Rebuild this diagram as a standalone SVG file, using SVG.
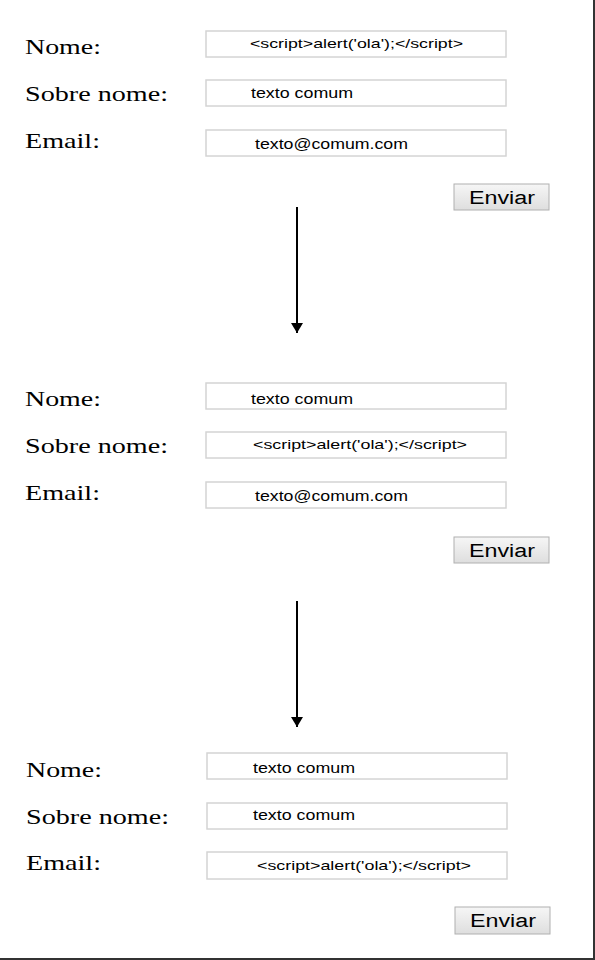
<svg xmlns="http://www.w3.org/2000/svg" width="595" height="960" viewBox="0 0 595 960">
<style>
.lbl{font-family:"Liberation Serif","Times New Roman",serif;font-size:22px;fill:#000}
.box{fill:#fff;stroke:#d4d4d4;stroke-width:1.5}
.val{font-family:"Liberation Sans",Arial,sans-serif;font-size:14px;fill:#000}
.scr{font-family:"Liberation Sans",Arial,sans-serif;font-size:13px;fill:#000}
.btn{fill:url(#bg);stroke:#b0b0b0;stroke-width:1}
.btxt{font-family:"Liberation Sans",Arial,sans-serif;font-size:18px;fill:#000}
.conn{stroke:#000;stroke-width:2;fill:none}
</style>
<defs>
<linearGradient id="bg" x1="0" y1="0" x2="0" y2="1">
<stop offset="0" stop-color="#f6f6f6"/>
<stop offset="1" stop-color="#dedede"/>
</linearGradient>
<marker id="ah" viewBox="0 0 10 12" refX="10" refY="6" markerWidth="10" markerHeight="12" markerUnits="userSpaceOnUse" orient="auto">
<path d="M0,0 L10,6 L0,12 Z" fill="#000"/>
</marker>
</defs>
<rect x="0" y="0" width="595" height="960" fill="#fff"/>
<g id="frame">
<line x1="594" y1="0" x2="594" y2="960" stroke="#333" stroke-width="2"/>
<line x1="0" y1="959" x2="595" y2="959" stroke="#333" stroke-width="2"/>
</g>

<g id="form1">
<text class="lbl" x="25" y="54" textLength="76" lengthAdjust="spacingAndGlyphs">Nome:</text>
<text class="lbl" x="25" y="101" textLength="143" lengthAdjust="spacingAndGlyphs">Sobre nome:</text>
<text class="lbl" x="25" y="148" textLength="75" lengthAdjust="spacingAndGlyphs">Email:</text>
<rect class="box" x="206" y="31" width="300" height="26"/>
<text class="scr" x="250" y="48" textLength="213" lengthAdjust="spacingAndGlyphs">&lt;script&gt;alert('ola');&lt;/script&gt;</text>
<rect class="box" x="206" y="80" width="300" height="26"/>
<text class="val" x="251" y="98" textLength="102" lengthAdjust="spacingAndGlyphs">texto comum</text>
<rect class="box" x="206" y="130" width="300" height="26"/>
<text class="val" x="255" y="149" textLength="153" lengthAdjust="spacingAndGlyphs">texto@comum.com</text>
<rect class="btn" x="454" y="184" width="95" height="26"/>
<text class="btxt" x="469" y="204" textLength="66" lengthAdjust="spacingAndGlyphs">Enviar</text>
</g>

<g id="form2">
<text class="lbl" x="25" y="406" textLength="76" lengthAdjust="spacingAndGlyphs">Nome:</text>
<text class="lbl" x="25" y="453" textLength="143" lengthAdjust="spacingAndGlyphs">Sobre nome:</text>
<text class="lbl" x="25" y="500" textLength="75" lengthAdjust="spacingAndGlyphs">Email:</text>
<rect class="box" x="206" y="383" width="300" height="26"/>
<text class="val" x="251" y="404" textLength="102" lengthAdjust="spacingAndGlyphs">texto comum</text>
<rect class="box" x="206" y="432" width="300" height="26"/>
<text class="scr" x="253" y="449" textLength="214" lengthAdjust="spacingAndGlyphs">&lt;script&gt;alert('ola');&lt;/script&gt;</text>
<rect class="box" x="206" y="482" width="300" height="26"/>
<text class="val" x="255" y="501" textLength="153" lengthAdjust="spacingAndGlyphs">texto@comum.com</text>
<rect class="btn" x="454" y="537" width="95" height="26"/>
<text class="btxt" x="469" y="557" textLength="66" lengthAdjust="spacingAndGlyphs">Enviar</text>
</g>

<g id="form3">
<text class="lbl" x="26" y="777" textLength="76" lengthAdjust="spacingAndGlyphs">Nome:</text>
<text class="lbl" x="26" y="824" textLength="143" lengthAdjust="spacingAndGlyphs">Sobre nome:</text>
<text class="lbl" x="26" y="870" textLength="75" lengthAdjust="spacingAndGlyphs">Email:</text>
<rect class="box" x="207" y="753" width="300" height="26"/>
<text class="val" x="253" y="773" textLength="102" lengthAdjust="spacingAndGlyphs">texto comum</text>
<rect class="box" x="207" y="803" width="300" height="26"/>
<text class="val" x="253" y="820" textLength="102" lengthAdjust="spacingAndGlyphs">texto comum</text>
<rect class="box" x="207" y="852" width="300" height="27"/>
<text class="scr" x="257" y="870" textLength="214" lengthAdjust="spacingAndGlyphs">&lt;script&gt;alert('ola');&lt;/script&gt;</text>
<rect class="btn" x="455" y="907" width="95" height="27"/>
<text class="btxt" x="470" y="927" textLength="66" lengthAdjust="spacingAndGlyphs">Enviar</text>
</g>

<g id="connectors">
<line class="conn" x1="297" y1="207" x2="297" y2="333" marker-end="url(#ah)"/>
<line class="conn" x1="297" y1="601" x2="297" y2="727" marker-end="url(#ah)"/>
</g>
</svg>
